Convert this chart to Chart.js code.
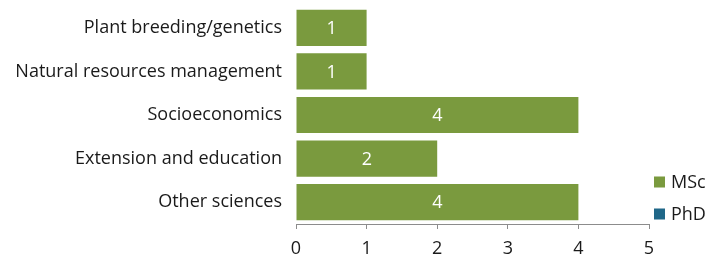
<!DOCTYPE html>
<html>
<head>
<meta charset="utf-8">
<script src="https://cdn.jsdelivr.net/npm/chart.js@4/dist/chart.umd.min.js"></script>
<style>
html,body{margin:0;padding:0;background:#fff;}
#wrap{width:709px;height:259px;position:relative;}
</style>
</head>
<body>
<div id="wrap"><canvas id="c" width="709" height="259"></canvas></div>
<script>
const categories = ["Plant breeding/genetics","Natural resources management","Socioeconomics","Extension and education","Other sciences"];
const mscValues = [1,1,4,2,4];
const phdValues = [0,0,0,0,0];
const xTicks = [0,1,2,3,4,5];
const seriesNames = ["MSc","PhD"];
const seriesColors = ["#7A9A3E","#1F6788"];

const FONT = "'Open Sans', sans-serif";
const FS = 18;
const TXT = '#1a1a1a';

const valueLabels = {
  id:'valueLabels',
  afterDatasetsDraw(chart){
    const ctx = chart.ctx;
    chart.data.datasets.forEach((ds,di)=>{
      const meta = chart.getDatasetMeta(di);
      meta.data.forEach((bar,i)=>{
        const v = ds.data[i];
        if(!v) return;
        ctx.save();
        ctx.fillStyle = '#ffffff';
        ctx.font = FS + 'px ' + FONT;
        ctx.textAlign='center';
        ctx.textBaseline='middle';
        ctx.fillText(String(v),(bar.x+bar.base)/2,bar.y+1);
        ctx.restore();
      });
    });
  }
};

const sideLegend = {
  id:'sideLegend',
  afterDraw(chart){
    const ctx = chart.ctx;
    const a = chart.chartArea;
    const x0 = a.right + 5;
    const ys = [a.bottom - 42, a.bottom - 10];
    chart.data.datasets.forEach((ds,i)=>{
      ctx.save();
      ctx.fillStyle = ds.backgroundColor;
      ctx.fillRect(x0, ys[i]-5.5, 11, 11);
      ctx.fillStyle = TXT;
      ctx.font = FS + 'px ' + FONT;
      ctx.textAlign='left';
      ctx.textBaseline='middle';
      ctx.fillText(ds.label, x0+17, ys[i]+1);
      ctx.restore();
    });
  }
};

new Chart(document.getElementById('c'),{
  type:'bar',
  data:{
    labels:categories,
    datasets:[
      {label:seriesNames[0],data:mscValues,backgroundColor:seriesColors[0],barPercentage:0.83,categoryPercentage:1},
      {label:seriesNames[1],data:phdValues,backgroundColor:seriesColors[1],barPercentage:0.83,categoryPercentage:1}
    ]
  },
  options:{
    indexAxis:'y',
    responsive:false,
    animation:false,
    layout:{padding:{top:6,right:60,left:0,bottom:0}},
    plugins:{
      legend:{display:false},
      tooltip:{enabled:false}
    },
    scales:{
      x:{
        stacked:true,min:0,max:5,
        afterBuildTicks(s){s.ticks = xTicks.map(v=>({value:v}));},
        afterFit(s){s.height = 35; s.paddingLeft = 0; s.paddingRight = 0;},
        grid:{drawOnChartArea:false,drawTicks:true,tickLength:5,color:'#8c8c8c'},
        border:{display:true,color:'#8c8c8c'},
        ticks:{color:TXT,font:{family:FONT,size:FS},padding:9}
      },
      y:{
        stacked:true,
        afterFit(s){s.width = 296; s.paddingTop = 0; s.paddingBottom = 0;},
        grid:{display:false,drawTicks:false},
        border:{display:false},
        ticks:{color:TXT,font:{family:FONT,size:FS},padding:14}
      }
    }
  },
  plugins:[valueLabels, sideLegend]
});
</script>
</body>
</html>
